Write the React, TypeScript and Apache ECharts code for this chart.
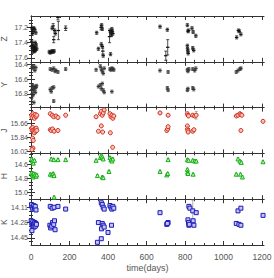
import React, { useEffect, useRef } from 'react';
import * as echarts from 'echarts';

const bandNames = ['Z', 'Y', 'J', 'H', 'K'];
const yMin = [17.05, 16.36, 15.45, 14.44, 14.02];
const yMax = [17.65, 16.99, 16.05, 15.1, 14.53];
const yMajor = [
  [17.2, 17.4, 17.6],
  [16.4, 16.6, 16.8],
  [15.66, 15.84, 16.02],
  [14.6, 14.8, 15.0],
  [14.11, 14.28, 14.45],
];
const yMajorLabels = [
  ['17.2', '17.4', '17.6'],
  ['16.4', '16.6', '16.8'],
  ['15.66', '15.84', '16.02'],
  ['14.6', '14.8', '15.0'],
  ['14.11', '14.28', '14.45'],
];
const yMinorStep = [0.05, 0.05, 0.06, 0.05, 0.0425];
const xTicks = [0, 200, 400, 600, 800, 1000, 1200];
const xMinorStep = 50;
const xMin = 0;
const xMax = 1210;

// Z band
const zDays = [2, 5, 8, 10, 15, 20, 25, 3, 4, 6, 9, 10, 12, 15, 18, 20, 21, 22, 24, 27, 30,
  95, 100, 105, 110, 110, 115, 115, 118, 120, 123, 126, 140, 142, 180,
  341, 350, 364, 365, 367, 370, 370, 373, 375, 408, 410, 413, 415, 418, 420, 422, 425,
  670, 700, 708, 710, 812, 812, 813, 815, 815, 816, 818, 836, 840, 842, 845, 856,
  1068, 1077, 1082, 1090];
const zMag = [17.2, 17.22, 17.28, 17.25, 17.21, 17.23, 17.27, 17.44, 17.38, 17.47, 17.42, 17.52, 17.48, 17.45, 17.5, 17.51, 17.46, 17.4, 17.49, 17.43, 17.48,
  17.52, 17.53, 17.52, 17.21, 17.51, 17.18, 17.52, 17.36, 17.51, 17.24, 17.28, 17.07, 17.24, 17.21,
  17.27, 17.48, 17.2, 17.42, 17.17, 17.22, 17.45, 17.51, 17.57, 17.32, 17.24, 17.55, 17.27, 17.3, 17.22, 17.25, 17.28,
  17.19, 17.57, 17.23, 17.46, 17.17, 17.44, 17.48, 17.25, 17.51, 17.54, 17.24, 17.21, 17.47, 17.26, 17.5, 17.31,
  17.33, 17.24, 17.25, 17.29];
const zErr = [0.02, 0.02, 0.02, 0.02, 0.02, 0.02, 0.02, 0.02, 0.02, 0.02, 0.02, 0.02, 0.02, 0.02, 0.02, 0.02, 0.02, 0.02, 0.02, 0.02, 0.02,
  0.02, 0.02, 0.02, 0.02, 0.02, 0.03, 0.02, 0.04, 0.02, 0.02, 0.02, 0.03, 0.12, 0.03,
  0.02, 0.02, 0.03, 0.02, 0.02, 0.02, 0.02, 0.04, 0.02, 0.08, 0.02, 0.02, 0.02, 0.02, 0.02, 0.02, 0.02,
  0.02, 0.06, 0.02, 0.1, 0.02, 0.02, 0.02, 0.02, 0.02, 0.02, 0.02, 0.02, 0.02, 0.02, 0.02, 0.02,
  0.02, 0.02, 0.02, 0.02];

// Y band
const yDays = [5, 10, 15, 20, 25, 2, 5, 8, 11, 14, 17, 20, 23, 26, 29, 5, 10, 3, 15,
  100, 110, 118, 125, 130, 140, 180, 100, 105, 110, 118, 118,
  338, 360, 365, 370, 375, 380, 410, 415, 420, 425, 430, 350, 360, 365, 370, 375, 380, 420,
  670, 712, 708, 712, 812, 815, 820, 840, 850, 856, 812, 815, 840, 845, 1066, 1075, 1085, 1090];
const yMag = [16.43, 16.45, 16.42, 16.48, 16.44, 16.7, 16.74, 16.68, 16.72, 16.76, 16.7, 16.73, 16.78, 16.71, 16.69, 16.8, 16.82, 16.86, 16.92,
  16.46, 16.47, 16.45, 16.49, 16.48, 16.5, 16.46, 16.74, 16.77, 16.72, 16.71, 16.9,
  16.47, 16.42, 16.46, 16.49, 16.52, 16.45, 16.46, 16.47, 16.45, 16.46, 16.47, 16.7, 16.68, 16.73, 16.66, 16.75, 16.78, 16.77,
  16.48, 16.5, 16.72, 16.75, 16.47, 16.49, 16.46, 16.46, 16.48, 16.45, 16.75, 16.73, 16.72, 16.74, 16.5, 16.48, 16.46, 16.45];
const yErr = yDays.map(() => 0.02);

// J band
const jDays = [3, 6, 10, 14, 18, 22, 26, 30, 3, 6, 9, 12, 15, 18, 21, 24, 27, 30, 8, 12, 10, 5,
  100, 110, 118, 130, 140, 180, 100, 105, 112, 120, 140,
  338, 360, 365, 370, 375, 380, 410, 415, 420, 425, 430, 350, 365, 372, 412, 424,
  670, 712, 705, 710, 712, 812, 815, 818, 840, 850, 858, 812, 813, 815, 816, 840, 846,
  1066, 1075, 1085, 1090, 1095, 1090, 1205];
const jMag = [15.55, 15.58, 15.53, 15.56, 15.59, 15.54, 15.57, 15.55, 15.72, 15.75, 15.71, 15.77, 15.74, 15.78, 15.73, 15.76, 15.72, 15.75, 15.85, 15.88, 15.98, 16.0,
  15.53, 15.55, 15.57, 15.56, 15.58, 15.55, 15.74, 15.75, 15.73, 15.76, 15.75,
  15.57, 15.53, 15.5, 15.55, 15.52, 15.48, 15.53, 15.57, 15.55, 15.59, 15.56, 15.76, 15.69, 15.77, 15.78, 15.97,
  15.52, 15.55, 15.75, 15.73, 15.7, 15.53, 15.55, 15.56, 15.55, 15.56, 15.55, 15.69, 15.73, 15.75, 15.77, 15.76, 15.74,
  15.56, 15.55, 15.53, 15.54, 15.55, 15.75, 15.63];
const jErr = jDays.map((d) => (d === 858 ? 0.05 : 0.015));

// H band
const hDays = [3, 8, 12, 18, 2, 6, 10, 14, 18, 22, 26, 30,
  105, 118, 140, 180, 100, 108, 115, 120, 120,
  338, 360, 365, 370, 375, 410, 415, 420, 425, 345, 370, 375, 405,
  712, 670, 705, 710, 812, 818, 840, 850, 858, 812, 813, 815, 842,
  1075, 1085, 1092, 1066, 1088, 1098, 1205];
const hMag = [14.52, 14.55, 14.58, 14.54, 14.72, 14.75, 14.78, 14.73, 14.76, 14.74, 14.77, 14.75,
  14.52, 14.53, 14.53, 14.53, 14.74, 14.75, 14.73, 14.76, 15.07,
  14.54, 14.5, 14.47, 14.49, 14.52, 14.5, 14.53, 14.55, 14.52, 14.76, 14.78, 14.79, 14.7,
  14.53, 14.7, 14.75, 14.73, 14.53, 14.54, 14.54, 14.55, 14.55, 14.67, 14.71, 14.73, 14.74,
  14.52, 14.55, 14.57, 14.74, 14.74, 14.78, 14.56];
const hErr = hDays.map(() => 0.015);

// K band
const kDays = [3, 6, 10, 14, 18, 22, 26, 1, 4, 7, 10, 13, 16, 19, 22, 25, 28, 5,
  100, 110, 120, 140, 180, 98, 102, 108, 112, 118, 122, 125,
  345, 365, 350, 365, 370, 375, 380, 370, 375, 366, 380, 400, 418, 410, 415, 420, 425, 430,
  670, 705, 712, 708, 820, 825, 840, 858, 815, 818, 820, 822, 842, 846,
  1075, 1090, 1066, 1080, 1090, 1205];
const kMag = [14.08, 14.11, 14.13, 14.09, 14.12, 14.1, 14.14, 14.26, 14.29, 14.31, 14.27, 14.3, 14.33, 14.28, 14.32, 14.29, 14.3, 14.37,
  14.1, 14.12, 14.11, 14.1, 14.13, 14.31, 14.34, 14.32, 14.28, 14.3, 14.26, 14.36,
  14.5, 14.46, 14.28, 14.06, 14.08, 14.11, 14.13, 14.29, 14.31, 14.35, 14.33, 14.39, 14.31, 14.09, 14.11, 14.13, 14.1, 14.12,
  14.17, 14.3, 14.28, 14.29, 14.1, 14.12, 14.15, 14.17, 14.25, 14.28, 14.31, 14.3, 14.26, 14.31,
  14.15, 14.12, 14.29, 14.3, 14.31, 14.2];
const kErr = kDays.map((d) => (d === 840 ? 0.12 : 0.015));

const bandDays = [zDays, yDays, jDays, hDays, kDays];
const bandMag = [zMag, yMag, jMag, hMag, kMag];
const bandErr = [zErr, yErr, jErr, hErr, kErr];

const symbols = ['rect', 'rect', 'circle', 'triangle', 'rect'];
const symbolSizes: any[] = [[3.5, 1.2], [3.5, 1.2], 4, 4, 4];
const fills = ['#111111', '#333333', '#f6c4bc', '#b8f4b0', '#c4c4fa'];
const borders = ['#111111', '#333333', '#d42a18', '#18b018', '#1c1cb8'];
const errColors = ['#222222', '#333333', '#999999', '#999999', '#999999'];

const FONT = '"Liberation Sans Narrow", "Liberation Sans", sans-serif';
const LINE = '#333333';
const TXT = '#555555';

function minorValues(min: number, max: number, step: number, majors: number[]) {
  const out: number[] = [];
  const start = majors[0];
  for (let v = start; v >= min - 1e-9; v -= step) out.push(v);
  for (let v = start + step; v <= max + 1e-9; v += step) out.push(v);
  return out.filter((v) => !majors.some((m) => Math.abs(m - v) < 1e-6));
}

export default function App() {
  const ref = useRef<HTMLDivElement>(null);
  useEffect(() => {
    if (!ref.current) return;
    const chart = echarts.init(ref.current, null, { renderer: 'svg' });
    const n = 5;
    const top0 = 16;
    const bottom = 245;
    const h = (bottom - top0) / n;
    const grids: any[] = [];
    const xAxes: any[] = [];
    const yAxes: any[] = [];
    const series: any[] = [];
    const xMinor = minorValues(xMin, xMax, xMinorStep, xTicks);
    for (let i = 0; i < n; i++) {
      grids.push({ left: 31, width: 233, top: top0 + i * h, height: h, containLabel: false, outerBoundsMode: 'none' });
      const last = i === n - 1;
      const xBase = {
        gridIndex: i, type: 'value', min: xMin, max: xMax,
        splitLine: { show: false },
      };
      xAxes.push({
        ...xBase, position: 'bottom',
        axisLine: { show: true, lineStyle: { color: LINE, width: 1 } },
        axisTick: { show: true, inside: true, length: 4, customValues: xTicks, lineStyle: { color: LINE } },
        axisLabel: {
          show: last, customValues: xTicks, margin: 7, color: TXT, fontSize: 8.5, fontFamily: FONT,
          formatter: (v: number) => String(v),
        },
        name: last ? 'time(days)' : '', nameLocation: 'middle', nameGap: 18, nameMoveOverlap: false,
        nameTextStyle: { color: TXT, fontSize: 9, fontFamily: FONT },
      });
      xAxes.push({
        ...xBase, position: 'bottom',
        axisLine: { show: false },
        axisTick: { show: true, inside: true, length: 2, customValues: xMinor, lineStyle: { color: LINE } },
        axisLabel: { show: false },
      });
      xAxes.push({
        ...xBase, position: 'top',
        axisLine: { show: true, lineStyle: { color: LINE, width: 1 } },
        axisTick: { show: true, inside: true, length: 4, customValues: xTicks, lineStyle: { color: LINE } },
        axisLabel: { show: false },
      });
      xAxes.push({
        ...xBase, position: 'top',
        axisLine: { show: false },
        axisTick: { show: true, inside: true, length: 2, customValues: xMinor, lineStyle: { color: LINE } },
        axisLabel: { show: false },
      });

      const yMinor = minorValues(yMin[i], yMax[i], yMinorStep[i], yMajor[i]);
      const yBase = {
        gridIndex: i, type: 'value', min: yMin[i], max: yMax[i], inverse: true,
        splitLine: { show: false },
      };
      yAxes.push({
        ...yBase, position: 'left',
        axisLine: { show: true, lineStyle: { color: LINE, width: 1 } },
        axisTick: { show: true, inside: true, length: 4, customValues: yMajor[i], lineStyle: { color: LINE } },
        axisLabel: {
          show: true, customValues: yMajor[i], margin: 3, color: TXT, fontSize: 7, fontFamily: FONT,
          formatter: (v: number) => {
            const idx = yMajor[i].findIndex((m) => Math.abs(m - v) < 1e-6);
            return idx >= 0 ? yMajorLabels[i][idx] : '';
          },
        },
        name: bandNames[i], nameLocation: 'middle', nameGap: 23, nameMoveOverlap: false,
        nameTextStyle: { color: TXT, fontSize: 8.5, fontFamily: FONT },
      });
      yAxes.push({
        ...yBase, position: 'left',
        axisLine: { show: false },
        axisTick: { show: true, inside: true, length: 2, customValues: yMinor, lineStyle: { color: LINE } },
        axisLabel: { show: false },
      });
      yAxes.push({
        ...yBase, position: 'right',
        axisLine: { show: true, lineStyle: { color: LINE, width: 1 } },
        axisTick: { show: true, inside: true, length: 4, customValues: yMajor[i], lineStyle: { color: LINE } },
        axisLabel: { show: false },
      });
      yAxes.push({
        ...yBase, position: 'right',
        axisLine: { show: false },
        axisTick: { show: true, inside: true, length: 2, customValues: yMinor, lineStyle: { color: LINE } },
        axisLabel: { show: false },
      });

      const data = bandDays[i].map((d, k) => [d, bandMag[i][k], bandErr[i][k]]);
      const ec = errColors[i];
      series.push({
        type: 'custom',
        xAxisIndex: 4 * i, yAxisIndex: 4 * i,
        clip: true,
        data,
        renderItem: (params: any, api: any) => {
          const x = api.value(0);
          const y = api.value(1);
          const e = api.value(2);
          const lo = api.coord([x, y - e]);
          const hi = api.coord([x, y + e]);
          const st = { stroke: ec, lineWidth: 0.8 };
          return {
            type: 'group',
            children: [
              { type: 'line', shape: { x1: lo[0], y1: lo[1], x2: hi[0], y2: hi[1] }, style: st },
              { type: 'line', shape: { x1: lo[0] - 1.5, y1: lo[1], x2: lo[0] + 1.5, y2: lo[1] }, style: st },
              { type: 'line', shape: { x1: hi[0] - 1.5, y1: hi[1], x2: hi[0] + 1.5, y2: hi[1] }, style: st },
            ],
          };
        },
        z: 2,
      });
      series.push({
        type: 'scatter',
        xAxisIndex: 4 * i, yAxisIndex: 4 * i,
        data: data.map((p) => [p[0], p[1]]),
        symbol: symbols[i],
        symbolSize: symbolSizes[i],
        itemStyle: { color: fills[i], borderColor: borders[i], borderWidth: i < 2 ? 0 : 1, opacity: 1 },
        clip: true,
        z: 3,
      });
    }
    chart.setOption({
      animation: false,
      backgroundColor: '#ffffff',
      grid: grids,
      xAxis: xAxes,
      yAxis: yAxes,
      series,
    });
    return () => chart.dispose();
  }, []);
  return <div ref={ref} style={{ position: 'fixed', left: 0, top: 0, width: 274, height: 278 }} />;
}
